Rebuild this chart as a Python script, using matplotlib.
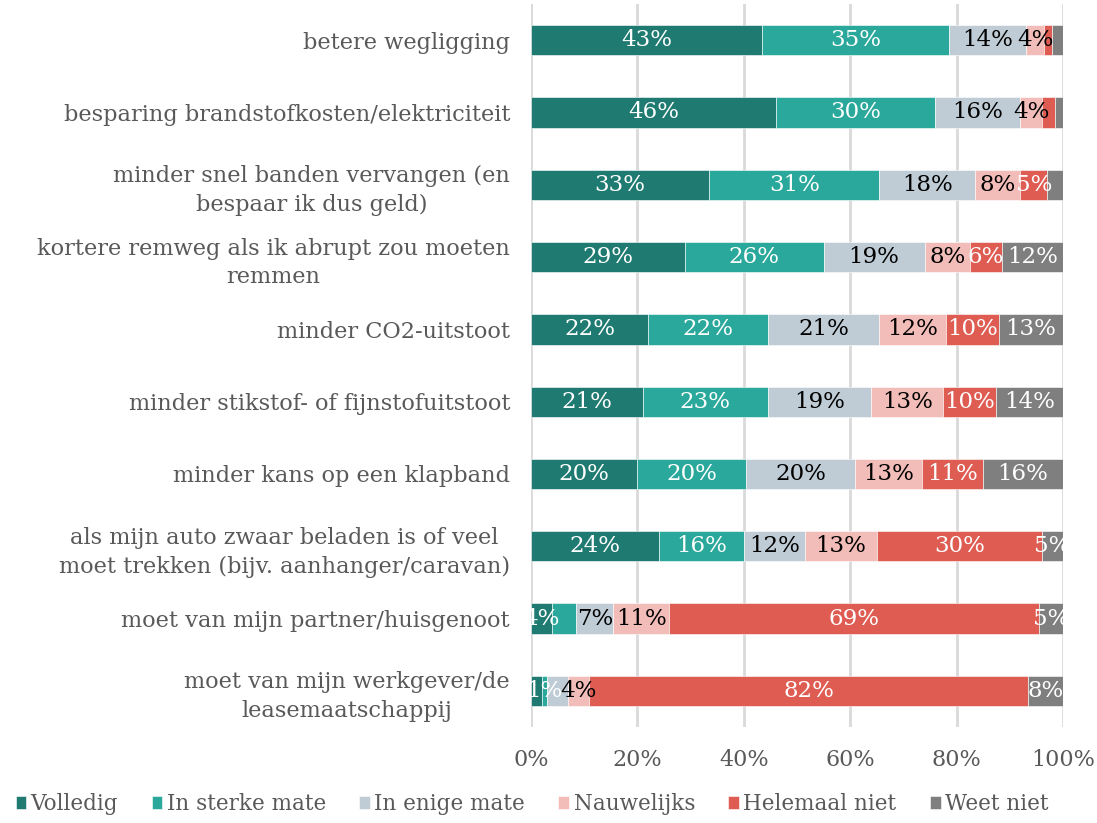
import matplotlib.pyplot as plt
import numpy as np

# categories (top to bottom)
categories = [
    "betere wegligging",
    "besparing brandstofkosten/elektriciteit",
    "minder snel banden vervangen (en\nbespaar ik dus geld)",
    "kortere remweg als ik abrupt zou moeten\nremmen",
    "minder CO2-uitstoot",
    "minder stikstof- of fijnstofuitstoot",
    "minder kans op een klapband",
    "als mijn auto zwaar beladen is of veel\nmoet trekken (bijv. aanhanger/caravan)",
    "moet van mijn partner/huisgenoot",
    "moet van mijn werkgever/de\nleasemaatschappij",
]

series_names = ["Volledig", "In sterke mate", "In enige mate",
                "Nauwelijks", "Helemaal niet", "Weet niet"]

# segment sizes in percent
volledig = [43.5, 46, 33.5, 29, 22, 21, 20, 24, 4, 2]
sterke_mate = [35, 30, 32, 26, 22.5, 23.5, 20.5, 16, 4.5, 1]
enige_mate = [14.5, 16, 18, 19, 21, 19.5, 20.5, 11.5, 7, 4]
nauwelijks = [3.5, 4, 8.5, 8.5, 12.5, 13.5, 12.5, 13.5, 10.5, 4]
helemaal_niet = [1.5, 2.5, 5, 6, 10, 10, 11.5, 31, 69.5, 82.5]
weet_niet = [2, 1.5, 3, 11.5, 12, 12.5, 15, 4, 4.5, 6.5]

# labels as printed on the chart ("" = not shown)
labels_volledig = ["43%", "46%", "33%", "29%", "22%", "21%", "20%", "24%", "4%", ""]
labels_sterke = ["35%", "30%", "31%", "26%", "22%", "23%", "20%", "16%", "", "1%"]
labels_enige = ["14%", "16%", "18%", "19%", "21%", "19%", "20%", "12%", "7%", ""]
labels_nauwelijks = ["4%", "4%", "8%", "8%", "12%", "13%", "13%", "13%", "11%", "4%"]
labels_helemaal = ["", "", "5%", "6%", "10%", "10%", "11%", "30%", "69%", "82%"]
labels_weet = ["", "", "", "12%", "13%", "14%", "16%", "5%", "5%", "8%"]

colors = ["#1f7b71", "#2aa89b", "#bfccd5", "#f2bdb8", "#de5c52", "#7f7f7f"]
text_colors = ["white", "white", "black", "black", "white", "white"]

all_values = [volledig, sterke_mate, enige_mate, nauwelijks, helemaal_niet, weet_niet]
all_labels = [labels_volledig, labels_sterke, labels_enige,
              labels_nauwelijks, labels_helemaal, labels_weet]

plt.rcParams['font.family'] = ['DejaVu Serif']

fig = plt.figure(figsize=(10.97, 8.23), dpi=100)
ax = fig.add_axes([0.484, 0.1166, 0.485, 0.8785])

y = np.arange(len(categories))
left = np.zeros(len(categories))
for vals, labs, col, tcol, name in zip(all_values, all_labels, colors, text_colors, series_names):
    vals = np.array(vals)
    ax.barh(y, vals, left=left, height=0.42, color=col, label=name,
            edgecolor='white', linewidth=0.4, zorder=3)
    for yi, (l, v, lab) in enumerate(zip(left, vals, labs)):
        if lab:
            ax.text(l + v / 2, yi, lab, ha='center', va='center',
                    color=tcol, fontsize=16.5, zorder=4)
    left += vals

ax.set_xlim(0, 100)
ax.set_ylim(len(categories) - 0.5, -0.5)
ax.set_xticks(np.arange(0, 101, 20))
ax.set_xticklabels([f"{t}%" for t in range(0, 101, 20)])
ax.set_yticks(y)
ax.set_yticklabels(categories)
for lbl in ax.get_yticklabels():
    lbl.set_multialignment('center')
    lbl.set_linespacing(1.4)
ax.tick_params(axis='y', length=0, labelsize=16.2, colors='#595959', pad=15)
ax.tick_params(axis='x', length=0, labelsize=16, colors='#595959', pad=16)
ax.grid(axis='x', color='#d9d9d9', linewidth=2, zorder=0)
for s in ax.spines.values():
    s.set_visible(False)

fig.legend(loc='lower center', bbox_to_anchor=(0.485, -0.014), ncol=6, frameon=False,
           fontsize=15.5, handlelength=0.5, handleheight=0.5, handletextpad=0.2,
           columnspacing=1.55, labelcolor='#595959')

fig.savefig("out.png", dpi=100)
